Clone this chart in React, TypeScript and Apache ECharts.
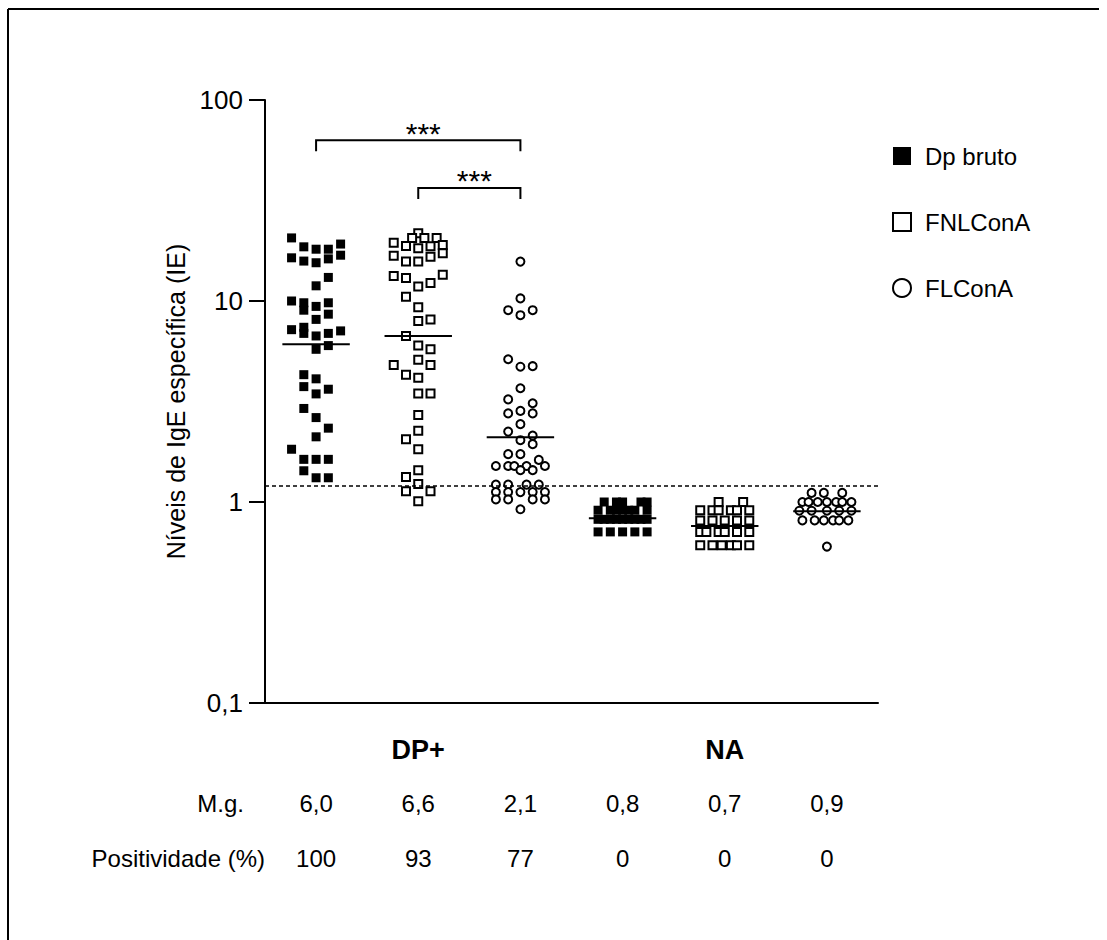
import React, { useEffect, useRef } from 'react';
import * as echarts from 'echarts';

const FONT = '"Liberation Sans", Arial, sans-serif';

const groupLabels = ['DP+', 'NA'];
const seriesNames = ['Dp bruto', 'FNLConA', 'FLConA'];

// each point: [horizontal slot within column, IgE level (IE)]
const dpBrutoDP: number[][] = [
  [-2, 20.6],
  [-1, 18.6], [0, 18.1], [1, 18.1], [2, 19.2],
  [-2, 16.4], [-1, 15.8], [0, 15.5], [1, 16.2], [2, 16.9],
  [1, 13.1], [0, 11.9],
  [-2, 10.0], [-1, 9.8], [0, 9.4], [1, 9.8],
  [-1, 9.0], [1, 8.6], [0, 8.1],
  [-2, 7.2], [-1, 7.4], [-1, 6.9], [0, 6.7], [1, 6.9], [2, 7.1],
  [0, 5.75], [1, 6.0],
  [-1, 4.3], [0, 4.1],
  [-1, 3.75], [1, 3.64], [0, 3.45],
  [-1, 2.92], [0, 2.63], [1, 2.33], [0, 2.11],
  [-2, 1.83],
  [-1, 1.63], [0, 1.63], [1, 1.63],
  [-1, 1.43],
  [0, 1.32], [1, 1.32],
];

const fnlConADP: number[][] = [
  [0, 21.7],
  [-0.5, 20.6], [0.5, 20.6], [1.5, 20.6],
  [-2, 19.5], [-1, 18.8], [0, 18.3], [1, 18.7], [2, 19.0],
  [-2, 16.8], [-1, 15.7], [0, 15.7], [1, 16.6], [2, 17.3],
  [-2, 13.3], [-1, 13.0], [0, 11.8], [1, 12.3], [2, 13.5],
  [-1, 10.5], [0, 9.3],
  [0, 7.95], [1, 8.1],
  [-1, 6.7],
  [0, 6.0], [1, 5.75],
  [0, 5.1],
  [-2, 4.8], [1, 4.8],
  [-1, 4.3], [0, 4.15],
  [0, 3.47], [1, 3.47],
  [0, 2.71], [0, 2.26], [-1, 2.05], [0, 1.83],
  [0, 1.44], [-1, 1.33], [0, 1.23],
  [-1, 1.13], [1, 1.13],
  [0, 1.01],
];

const flConADP: number[][] = [
  [0, 15.7],
  [0, 10.3],
  [-1, 9.0], [0, 8.5], [1, 9.0],
  [-1, 5.13], [0, 4.71], [1, 4.74],
  [0, 3.68],
  [-1, 3.24], [1, 3.1],
  [-1, 2.76], [0, 2.84], [1, 2.76],
  [0, 2.44], [-1, 2.24], [1, 2.14],
  [0, 2.03], [1, 1.94],
  [-1, 1.73], [0, 1.73],
  [-2, 1.51], [-1, 1.51], [-0.5, 1.51], [0.5, 1.51], [1.5, 1.62], [2, 1.51], [0, 1.44], [1, 1.44],
  [-2, 1.22], [-1, 1.22], [0.5, 1.22], [1.5, 1.22],
  [-2, 1.12], [-1, 1.12], [0, 1.12], [1, 1.12], [2, 1.12],
  [-2, 1.03], [-1, 1.03], [1, 1.03], [2, 1.03],
  [0, 0.92],
];

const dpBrutoNA: number[][] = [
  [-1.5, 1.0], [-0.5, 1.0], [0, 1.0], [1.5, 1.0], [2, 1.0],
  [-2, 0.91], [-1, 0.91], [-0.5, 0.91], [0, 0.91], [0.5, 0.91], [1, 0.91], [2, 0.91],
  [-2, 0.82], [-1.5, 0.82], [-1, 0.82], [-0.5, 0.82], [0, 0.82], [0.5, 0.82], [1, 0.82], [1.5, 0.82], [2, 0.82],
  [-2, 0.71], [-1, 0.71], [0, 0.71], [1, 0.71], [2, 0.71],
];

const fnlConANA: number[][] = [
  [-0.5, 1.0], [1.5, 1.0],
  [-2, 0.91], [-1, 0.91], [-0.5, 0.91], [0.5, 0.91], [1, 0.91], [2, 0.91],
  [-2, 0.81], [-1, 0.81], [0, 0.81], [1, 0.81], [2, 0.81],
  [-2, 0.71], [-1.5, 0.71], [-0.5, 0.71], [0, 0.71], [1, 0.71], [2, 0.71],
  [-2, 0.61], [-1, 0.61], [-0.25, 0.61], [0.5, 0.61], [1, 0.61], [2, 0.61],
];

const flConANA: number[][] = [
  [-1.25, 1.11], [-0.25, 1.11], [1.25, 1.11],
  [-2, 1.0], [-1.5, 1.0], [-0.75, 1.0], [0, 1.0], [0.75, 1.0], [1.25, 1.0], [2, 1.0],
  [-2.25, 0.905], [-1.25, 0.905], [0, 0.905], [1, 0.905], [2, 0.905],
  [-2, 0.81], [-1, 0.81], [-0.25, 0.81], [0.5, 0.81], [1, 0.81], [1.75, 0.81],
  [0, 0.6],
];

// geometric mean lines per column and their printed values
const meanLines = [6.1, 6.7, 2.1, 0.83, 0.76, 0.9];
const mgLabels = ['6,0', '6,6', '2,1', '0,8', '0,7', '0,9'];
const positivityLabels = ['100', '93', '77', '0', '0', '0'];
const cutoff = 1.2;
// [from column, to column, level]
const brackets = [
  [0, 2, 63],
  [1, 2, 36.5],
];

const SLOT = 0.12;
const HALF = 0.33;

const toPoints = (col: number, pts: number[][]) =>
  pts.map(([s, v]) => [col + 0.5 + s * SLOT, v]);

export default function App() {
  const ref = useRef<HTMLDivElement>(null);
  useEffect(() => {
    if (!ref.current) return;
    const chart = echarts.init(ref.current, undefined, { renderer: 'svg' });
    const hollow = { color: '#fff', borderColor: '#000', borderWidth: 2, opacity: 1 };
    const idx = positivityLabels.map((_, i) => String(i));
    const option: any = {
      animation: false,
      backgroundColor: '#fff',
      textStyle: { fontFamily: FONT, color: '#000' },
      grid: { left: 265, right: 229, top: 100, bottom: 237, containLabel: false },
      legend: {
        orient: 'vertical',
        left: 887,
        top: 139,
        itemWidth: 18,
        itemHeight: 18,
        itemGap: 42,
        selectedMode: false,
        textStyle: { fontSize: 24, color: '#000', fontFamily: FONT, padding: [0, 0, 0, 9] },
        data: [
          { name: seriesNames[0], icon: 'rect' },
          { name: seriesNames[1], icon: 'rect' },
          { name: seriesNames[2], icon: 'circle' },
        ],
      },
      xAxis: [
        {
          type: 'value', min: 0, max: 6, position: 'bottom',
          axisLine: { show: true, onZero: false, lineStyle: { color: '#000', width: 2 } },
          axisTick: { show: false }, axisLabel: { show: false }, splitLine: { show: false },
        },
        {
          type: 'category', data: groupLabels, position: 'bottom', offset: 0,
          axisLine: { show: false }, axisTick: { show: false }, splitLine: { show: false },
          axisLabel: { interval: 0, margin: 33, fontSize: 27, fontWeight: 'bold', color: '#000', fontFamily: FONT },
        },
        {
          type: 'category', data: idx, position: 'bottom', offset: 88,
          axisLine: { show: false }, axisTick: { show: false }, splitLine: { show: false },
          axisLabel: { interval: 0, margin: 0, fontSize: 24, color: '#000', fontFamily: FONT,
            formatter: (_v: string, i: number) => mgLabels[i] },
        },
        {
          type: 'category', data: idx, position: 'bottom', offset: 143,
          axisLine: { show: false }, axisTick: { show: false }, splitLine: { show: false },
          axisLabel: { interval: 0, margin: 0, fontSize: 24, color: '#000', fontFamily: FONT,
            formatter: (_v: string, i: number) => positivityLabels[i] },
        },
      ],
      yAxis: {
        type: 'log', logBase: 10, min: 0.1, max: 100,
        name: 'Níveis de IgE específica (IE)', nameLocation: 'middle', nameGap: 56, nameRotate: 90,
        nameTextStyle: { fontSize: 25, color: '#000', fontFamily: FONT },
        axisLine: { show: true, lineStyle: { color: '#000', width: 2 } },
        axisTick: { show: true, length: 16, lineStyle: { color: '#000', width: 2 } },
        minorTick: { show: false }, splitLine: { show: false },
        axisLabel: {
          fontSize: 26, color: '#000', margin: 22, fontFamily: FONT,
          formatter: (v: number) => (v < 1 ? v.toFixed(1).replace('.', ',') : String(Math.round(v))),
        },
      },
      graphic: [
        { type: 'line', shape: { x1: 8, y1: 9, x2: 1099, y2: 9 }, style: { stroke: '#000', lineWidth: 2 } },
        { type: 'line', shape: { x1: 8, y1: 9, x2: 8, y2: 940 }, style: { stroke: '#000', lineWidth: 2 } },
        { type: 'text', x: 244, y: 803, style: { text: 'M.g.', fontSize: 24, fontFamily: FONT, fill: '#000',
          align: 'right', verticalAlign: 'middle', textAlign: 'right', textVerticalAlign: 'middle' } },
        { type: 'text', x: 265, y: 858, style: { text: 'Positividade (%)', fontSize: 24, fontFamily: FONT, fill: '#000',
          align: 'right', verticalAlign: 'middle', textAlign: 'right', textVerticalAlign: 'middle' } },
      ],
      series: [
        {
          name: seriesNames[0], type: 'scatter', symbol: 'rect', symbolSize: 9,
          itemStyle: { color: '#000', opacity: 1 }, z: 3,
          data: [...toPoints(0, dpBrutoDP), ...toPoints(3, dpBrutoNA)],
          markLine: {
            silent: true, symbol: 'none', label: { show: false },
            lineStyle: { type: [4, 3], color: '#000', width: 1.5, opacity: 1 },
            data: [{ yAxis: cutoff }],
          },
        },
        {
          name: seriesNames[1], type: 'scatter', symbol: 'rect', symbolSize: 8,
          itemStyle: hollow, z: 3,
          data: [...toPoints(1, fnlConADP), ...toPoints(4, fnlConANA)],
        },
        {
          name: seriesNames[2], type: 'scatter', symbol: 'circle', symbolSize: 8,
          itemStyle: hollow, z: 3,
          data: [...toPoints(2, flConADP), ...toPoints(5, flConANA)],
        },
        {
          type: 'custom', z: 5, silent: true,
          data: meanLines.map((v, i) => [i, v]),
          encode: { x: 0, y: 1 },
          renderItem: (_p: any, api: any) => {
            const c = api.value(0);
            const v = api.value(1);
            const a = api.coord([c + 0.5 - HALF, v]);
            const b = api.coord([c + 0.5 + HALF, v]);
            return { type: 'line', shape: { x1: a[0], y1: a[1], x2: b[0], y2: b[1] },
              style: { stroke: '#000', lineWidth: 2 } };
          },
        },
        {
          type: 'custom', z: 5, silent: true,
          data: brackets,
          encode: { x: [0, 1], y: 2 },
          renderItem: (_p: any, api: any) => {
            const from = api.value(0);
            const to = api.value(1);
            const lvl = api.value(2);
            const p1 = api.coord([from + 0.5, lvl]);
            const p2 = api.coord([to + 0.5, lvl]);
            const drop = 11;
            return {
              type: 'group',
              children: [
                { type: 'polyline', shape: { points: [[p1[0], p1[1] + drop], [p1[0], p1[1]], [p2[0], p2[1]], [p2[0], p2[1] + drop]] },
                  style: { stroke: '#000', fill: 'none', lineWidth: 2 } },
                { type: 'text', x: (p1[0] + p2[0]) / 2 + 5, y: p1[1] + 8,
                  style: { text: '***', fontSize: 30, fontFamily: FONT, fill: '#000', align: 'center', verticalAlign: 'bottom' } },
              ],
            };
          },
        },
      ],
    };
    chart.setOption(option);
    return () => chart.dispose();
  }, []);
  return (
    <div
      ref={ref}
      style={{ position: 'fixed', left: 0, top: 0, width: 1107, height: 940, background: '#fff' }}
    />
  );
}
